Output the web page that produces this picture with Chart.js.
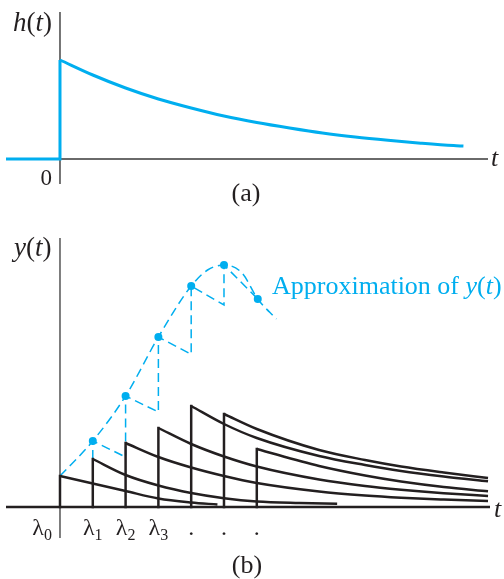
<!DOCTYPE html>
<html>
<head>
<meta charset="utf-8">
<script src="https://cdn.jsdelivr.net/npm/chart.js@4"></script>
<style>
html,body{margin:0;padding:0;background:#fff;}
#wrap{position:relative;width:504px;height:579px;}
canvas{position:absolute;left:0;}
#chartA{top:0;}
#chartB{top:220px;}
</style>
</head>
<body>
<div id="wrap">
<canvas id="chartA" width="504" height="220"></canvas>
<canvas id="chartB" width="504" height="359"></canvas>
</div>
<script>

// ----------------------------
// DATA (t in units of the impulse spacing)
// ----------------------------

// (a) impulse response h(t)
const hT = [0,1,2,3,4,5,6,7,8,9,10,11,12,12.3]
const hV = [99,84,71,60,51,43,36.5,31,26,22,18.7,15.8,13.4,13]

// (b) impulse times + tick labels
const lambdaT = [0,1,2,3,4,5,6]
const lambdaLabels = ["λ0","λ1","λ2","λ3",".",".","."]

// (b) scaled, shifted responses (first point = top of the jump)
const r0T = [0,1,2,3,4,4.8]
const r0V = [31,23.5,16,8.5,4.5,2.5]
const r1T = [1,2,3,4,5,6,7.3,8.45]
const r1V = [48,32,21.5,14,8.8,5.5,4,3.3]
const r2T = [2,3,4,5,6,7.9,9.3,10.4,11.7,13.05]
const r2V = [64,50,39.5,31,24,15.5,11.5,9.3,7.5,6]
const r3T = [3,4,5,6,7.9,9.3,10.4,11.7,13.05]
const r3V = [79,63,50.5,40.5,27.5,21,17.3,13.8,11]
const r4T = [4,5,6,7.9,9.3,10.4,11.7,13.05]
const r4V = [101,83,69,51,42,36,30.5,25.7]
const r5T = [5,6,7.9,9.3,10.4,11.7,13.05]
const r5V = [93,78,57,47,40.5,34.5,29]
const r6T = [6,7.9,9.3,10.4,11.7,13.05]
const r6V = [58,41,31.5,25.5,20,15.7]

// (b) approximation of y(t)
const approxT = [0,1,2,3,4,4.5,5,5.55,6.03,6.6]
const approxV = [31,66,111,170,221,237,242,234,208,188]
const dotT = [1,2,3,4,5,6.03]
const dotV = [66,111,170,221,242,208]
const sawT = [1,1,2,2,3,3,4,4,5,5,6.03]
const sawV = [48,66,50,111,95,170,152.7,221,202,242,208]

// ----------------------------
// STYLE
// ----------------------------

const BLUE = "#00aeef"
const BLACK = "#231f20"
const AXIS = "#3a3a3a"
const SERIF = '"Liberation Serif", "Times New Roman", serif'
const T_MIN = -1.646, T_MAX = 13.354

function pts(ts, vs){ return ts.map((t,i)=>({x:t, y:vs[i]})) }

function line(ts, vs, color, width, extra){
return Object.assign({
data: pts(ts, vs),
showLine:true,
borderColor:color,
backgroundColor:color,
borderWidth:width,
pointRadius:0,
fill:false,
tension:0
}, extra || {})
}

// text with italic / subscript parts
function drawParts(ctx, parts, x, y, size, color, align){
const fonts = parts.map(p => (p[1] ? "italic " : "") + (p[2] ? Math.round(size*0.68) : size) + "px " + SERIF)
let w = 0
parts.forEach((p,i)=>{ ctx.font = fonts[i]; w += ctx.measureText(p[0]).width })
let cx = align === "center" ? x - w/2 : align === "right" ? x - w : x
ctx.fillStyle = color
ctx.textAlign = "left"
ctx.textBaseline = "alphabetic"
parts.forEach((p,i)=>{
ctx.font = fonts[i]
ctx.fillText(p[0], cx, y + (p[2] ? size*0.2 : 0))
cx += ctx.measureText(p[0]).width
})
}

function baseOptions(yMin, yMax, pad){
return {
responsive:false,
animation:false,
events:[],
layout:{padding:pad},
plugins:{legend:{display:false}, tooltip:{enabled:false}},
scales:{
x:{type:"linear", min:T_MIN, max:T_MAX, display:false},
y:{type:"linear", min:yMin, max:yMax, display:false}
}
}
}

// ----------------------------
// CHART (a)
// ----------------------------

const axesA = {
id:"axesA",
beforeDatasetsDraw(chart){
const {ctx, scales:{x,y}} = chart
ctx.save()
ctx.strokeStyle = AXIS
ctx.lineWidth = 1.4
ctx.beginPath()
ctx.moveTo(x.getPixelForValue(0), y.top)
ctx.lineTo(x.getPixelForValue(0), y.bottom)
ctx.moveTo(x.left, y.getPixelForValue(0))
ctx.lineTo(x.getPixelForValue(13.05), y.getPixelForValue(0))
ctx.stroke()
ctx.restore()
},
afterDatasetsDraw(chart){
const {ctx, scales:{x,y}} = chart
const x0 = x.getPixelForValue(0), y0 = y.getPixelForValue(0)
ctx.save()
drawParts(ctx, [["h",1],["(",0],["t",1],[")",0]], 13, 31, 27, BLACK, "left")
drawParts(ctx, [["t",1]], 491, y0 + 7, 26, BLACK, "left")
drawParts(ctx, [["0",0]], x0 - 8, y0 + 26, 23, BLACK, "right")
drawParts(ctx, [["(a)",0]], 246, y0 + 42, 26, BLACK, "center")
ctx.restore()
}
}

new Chart(document.getElementById("chartA"), {
type:"scatter",
data:{
datasets:[
line([T_MIN,0,0],[0,0,hV[0]], BLUE, 3),
line(hT, hV, BLUE, 3, {cubicInterpolationMode:"monotone"})
]
},
options: baseOptions(-25, 147, {left:6, right:6, top:12, bottom:36}),
plugins:[axesA]
})

// ----------------------------
// CHART (b)
// ----------------------------

const axesB = {
id:"axesB",
beforeDatasetsDraw(chart){
const {ctx, scales:{x,y}} = chart
ctx.save()
ctx.strokeStyle = AXIS
ctx.lineWidth = 1.3
ctx.beginPath()
ctx.moveTo(x.getPixelForValue(0), y.top)
ctx.lineTo(x.getPixelForValue(0), y.bottom)
ctx.stroke()
ctx.strokeStyle = BLACK
ctx.lineWidth = 2.4
ctx.beginPath()
ctx.moveTo(x.left, y.getPixelForValue(0))
ctx.lineTo(x.getPixelForValue(13.11), y.getPixelForValue(0))
ctx.stroke()
ctx.restore()
},
afterDatasetsDraw(chart){
const {ctx, scales:{x,y}} = chart
const x0 = x.getPixelForValue(0), y0 = y.getPixelForValue(0)
ctx.save()
drawParts(ctx, [["y",1],["(",0],["t",1],[")",0]], 14, 36, 27, BLACK, "left")
drawParts(ctx, [["t",1]], 494, y0 + 10, 26, BLACK, "left")
lambdaT.forEach((t,i)=>{
const lab = lambdaLabels[i]
const px = i === 0 ? x0 - 8 : x.getPixelForValue(t)
const parts = lab.length > 1 ? [[lab[0],0],[lab.slice(1),0,1]] : [[lab,0]]
drawParts(ctx, parts, px, y0 + 28, 24, BLACK, i === 0 ? "right" : "center")
})
drawParts(ctx, [["(b)",0]], 247, y0 + 66, 26, BLACK, "center")
drawParts(ctx, [["Approximation of ",0],["y",1],["(",0],["t",1],[")",0]], 272, 74, 26, BLUE, "left")
ctx.restore()
}
}

const responses = [[r0T,r0V],[r1T,r1V],[r2T,r2V],[r3T,r3V],[r4T,r4V],[r5T,r5V],[r6T,r6V]]
const blackSets = []
responses.forEach(([ts,vs])=>{
blackSets.push(line([ts[0],ts[0]],[0,vs[0]], BLACK, 2.5, {borderCapStyle:"square"}))
blackSets.push(line(ts, vs, BLACK, 2.5, {cubicInterpolationMode:"monotone"}))
})

new Chart(document.getElementById("chartB"), {
type:"scatter",
data:{
datasets:[
...blackSets,
line(sawT, sawV, BLUE, 1.5, {borderDash:[9,5]}),
line(approxT, approxV, BLUE, 1.5, {borderDash:[9,5], cubicInterpolationMode:"monotone"}),
{data: pts(dotT, dotV), showLine:false, pointRadius:4, pointBorderWidth:0, backgroundColor:BLUE, borderColor:BLUE}
]
},
options: baseOptions(-31, 269, {left:6, right:6, top:18, bottom:41}),
plugins:[axesB]
})

</script>
</body>
</html>
